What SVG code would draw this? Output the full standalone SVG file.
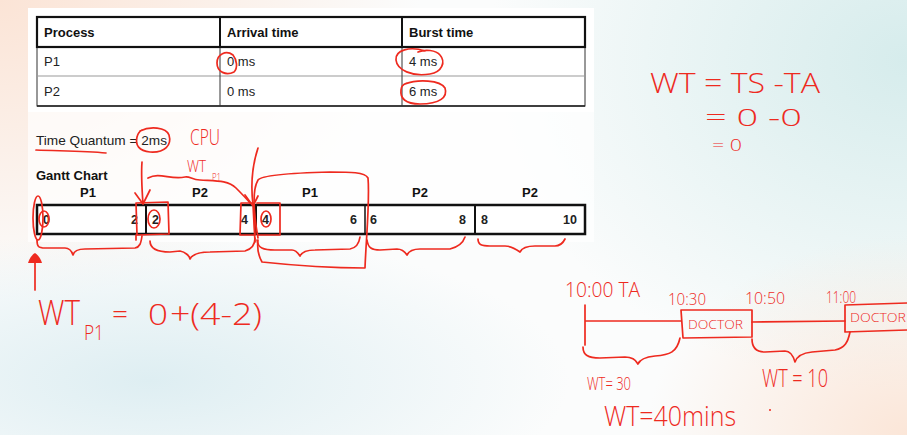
<svg xmlns="http://www.w3.org/2000/svg" width="907" height="435" viewBox="0 0 907 435">
<defs>
<radialGradient id="gPeach" cx="0" cy="0" r="1" gradientUnits="userSpaceOnUse" gradientTransform="translate(0 0) scale(420 300)">
<stop offset="0" stop-color="#fbe4d6"/><stop offset="1" stop-color="#fbe4d6" stop-opacity="0"/>
</radialGradient>
<radialGradient id="gTeal" cx="0" cy="0" r="1" gradientUnits="userSpaceOnUse" gradientTransform="translate(907 60) scale(420 330)">
<stop offset="0" stop-color="#d6ecec"/><stop offset="1" stop-color="#d6ecec" stop-opacity="0"/>
</radialGradient>
<radialGradient id="gBlue" cx="0" cy="0" r="1" gradientUnits="userSpaceOnUse" gradientTransform="translate(150 380) scale(420 150)">
<stop offset="0" stop-color="#deeef2"/><stop offset="1" stop-color="#deeef2" stop-opacity="0"/>
</radialGradient>
<radialGradient id="gPeach2" cx="0" cy="0" r="1" gradientUnits="userSpaceOnUse" gradientTransform="translate(907 435) scale(260 200)">
<stop offset="0" stop-color="#fbe6d8"/><stop offset="1" stop-color="#fbe6d8" stop-opacity="0"/>
</radialGradient>
<style>
.tb{font-family:"Liberation Sans",Arial,sans-serif;font-size:13px;font-weight:bold;fill:#111}
.tr{font-family:"Liberation Sans",Arial,sans-serif;font-size:13px;fill:#222}
.gn{font-family:"Liberation Sans",Arial,sans-serif;font-size:12.5px;font-weight:bold;fill:#222}
.ink{fill:none;stroke:#ee2a1f;stroke-width:1.7;stroke-linecap:round;stroke-linejoin:round}
.hw{font-family:"DejaVu Sans ExtraLight","Open Sans","DejaVu Sans",sans-serif;font-weight:300;fill:#ee2a1f}
.line{stroke:#111;fill:none}
</style>
</defs>
<rect width="907" height="435" fill="#fbfcfc"/>
<rect width="907" height="435" fill="url(#gPeach)"/>
<rect width="907" height="435" fill="url(#gTeal)"/>
<rect width="907" height="435" fill="url(#gBlue)"/>
<rect width="907" height="435" fill="url(#gPeach2)"/>
<rect x="28" y="8" width="566" height="104" fill="#ffffff"/>
<rect x="28" y="112" width="566" height="130" fill="#ffffff" opacity="0.7"/>

<g id="table">
<rect x="37" y="47" width="548" height="59" fill="#fff" stroke="#333" stroke-width="1"/>
<line x1="37" y1="76" x2="585" y2="76" stroke="#999" stroke-width="1.2"/>
<line x1="37" y1="106" x2="585" y2="106" stroke="#222" stroke-width="1.4"/>
<line x1="220" y1="47" x2="220" y2="106" stroke="#333" stroke-width="1"/>
<line x1="402" y1="47" x2="402" y2="106" stroke="#333" stroke-width="1"/>
<rect x="37" y="17" width="548" height="30" fill="#fff" stroke="#111" stroke-width="2.2"/>
<line x1="220" y1="17" x2="220" y2="47" stroke="#111" stroke-width="2"/>
<line x1="402" y1="17" x2="402" y2="47" stroke="#111" stroke-width="2"/>
<text class="tb" x="44" y="37">Process</text>
<text class="tb" x="227" y="37">Arrival time</text>
<text class="tb" x="409" y="37">Burst time</text>
<text class="tr" x="44" y="66">P1</text>
<text class="tr" x="227" y="66">0 ms</text>
<text class="tr" x="409" y="66">4 ms</text>
<text class="tr" x="44" y="96">P2</text>
<text class="tr" x="227" y="96">0 ms</text>
<text class="tr" x="409" y="96">6 ms</text>
</g>

<g id="quantum">
<text class="tr" x="36" y="145" font-size="13.5" textLength="131" lengthAdjust="spacingAndGlyphs">Time Quantum = 2ms</text>
</g>

<g id="gantt">
<text class="tb" x="36" y="180">Gantt Chart</text>
<text class="tb" x="80" y="197">P1</text>
<text class="tb" x="192" y="197">P2</text>
<text class="tb" x="302" y="197">P1</text>
<text class="tb" x="412" y="197">P2</text>
<text class="tb" x="522" y="197">P2</text>
<rect x="37" y="205" width="548" height="29" fill="#fff" stroke="#111" stroke-width="2.5"/>
<line class="line" x1="146" y1="205" x2="146" y2="234" stroke-width="2"/>
<line class="line" x1="256" y1="205" x2="256" y2="234" stroke-width="2"/>
<line class="line" x1="365" y1="205" x2="365" y2="234" stroke-width="1.5"/>
<line class="line" x1="475" y1="205" x2="475" y2="234" stroke-width="2"/>
<text class="gn" x="43" y="224">0</text>
<text class="gn" x="131" y="224">2</text>
<text class="gn" x="152" y="224">2</text>
<text class="gn" x="241" y="224">4</text>
<text class="gn" x="262" y="224">4</text>
<text class="gn" x="350" y="224">6</text>
<text class="gn" x="370" y="224">6</text>
<text class="gn" x="459" y="224">8</text>
<text class="gn" x="481" y="224">8</text>
<text class="gn" x="563" y="224">10</text>
</g>

<g id="table-marks">
<path class="ink" d="M233 55 C226 50,217 54,217 63 C217 72,226 76,234 72 C238 68,237 60,233 55"/>
<path class="ink" d="M425 51 C410 46,395 50,396 60 C397 70,412 77,430 74 C442 72,446 62,440 55 C436 50,425 49,418 52"/>
<path class="ink" d="M405 84 C418 79,440 80,445 88 C448 97,440 104,420 104 C405 104,400 98,401 90 C401 86,404 84,407 83"/>
<path class="ink" d="M36 150 C60 151,85 151,106 153"/>
<path class="ink" d="M140 131 C150 126,166 127,169 135 C172 145,165 153,150 152 C139 151,135 145,137 137 C138 133,140 131,142 130"/>
<text class="hw" x="190" y="145" font-size="22" textLength="30" lengthAdjust="spacingAndGlyphs">CPU</text>
<text class="hw" x="187" y="172" font-size="17" textLength="19" lengthAdjust="spacingAndGlyphs">WT</text>
<text class="hw" x="212" y="181" font-size="10" textLength="9" lengthAdjust="spacingAndGlyphs">P1</text>
</g>

<g id="gantt-marks">
<path class="ink" d="M142 162 C141 175,142 190,143 204 M135 193 L143 204 L150 190"/>
<path class="ink" d="M148 178 C160 172,170 180,185 177 C190 176,192 180,200 180 C215 181,228 180,236 188 C242 194,246 198,250 203"/>
<path class="ink" d="M258 148 C254 160,250 180,253 205 L255 242 M245 195 L253 206 L258 196"/>
<path class="ink" d="M136 203 L168 202 L169 234 L137 235 Z M136 235 L136 240"/>
<ellipse class="ink" cx="154" cy="219" rx="6" ry="9"/>
<ellipse class="ink" cx="38" cy="218" rx="5" ry="22"/>
<ellipse class="ink" cx="44" cy="219" rx="5" ry="8"/>
<path class="ink" d="M241 203 L254 203 L255 235 L240 235 Z"/>
<path class="ink" d="M257 203 L280 203 L280 235 L258 235"/>
<ellipse class="ink" cx="266" cy="219" rx="5" ry="8"/>
<path class="ink" d="M258 238 C254 215,252 190,258 180 C262 175,290 173,330 172 C350 172,365 172,368 178 C370 200,366 240,365 268 C330 268,290 265,262 262 C258 255,257 248,258 240"/>
<path class="ink" d="M37 240 C37 246,38 248,45 248 L65 248 C70 248,72 252,73 255 C74 251,78 249,85 249 L135 248 C140 247,141 243,142 236"/>
<path class="ink" d="M150 241 C150 248,155 252,170 252 L180 251 C185 252,190 256,190 259 C192 255,198 252,210 252 L245 251 C252 249,255 244,255 238"/>
<path class="ink" d="M257 240 C258 248,263 250,275 250 L292 250 C296 250,298 253,300 256 C302 252,306 250,315 250 L350 249 C356 248,359 244,360 237"/>
<path class="ink" d="M367 240 C368 248,372 250,380 250 L397 249 C402 249,405 252,407 255 C409 251,412 249,420 249 L450 249 C458 247,463 243,465 237"/>
<path class="ink" d="M478 239 C478 245,482 246,490 246 L505 246 C512 246,516 249,520 252 C522 248,528 246,535 246 L555 246 C560 246,563 243,565 239"/>
<path class="ink" d="M35 290 L35 258"/>
<path d="M28 263 C30 257,33 254,35 253 C38 255,41 259,42 263 Z" fill="#ee2a1f"/>
</g>

<g id="wt-p1">
<text class="hw" x="38" y="325" font-size="34" textLength="42" lengthAdjust="spacingAndGlyphs">WT</text>
<text class="hw" x="84" y="340" font-size="20" textLength="20" lengthAdjust="spacingAndGlyphs">P1</text>
<text class="hw" x="112" y="323" font-size="26" textLength="16" lengthAdjust="spacingAndGlyphs">=</text>
<text class="hw" x="148" y="325" font-size="30" textLength="20" lengthAdjust="spacingAndGlyphs">0</text>
<text class="hw" x="170" y="325" font-size="32" textLength="92" lengthAdjust="spacingAndGlyphs">+(4-2)</text>
</g>

<g id="wt-formula">
<text class="hw" x="650" y="93" font-size="28" textLength="170" lengthAdjust="spacingAndGlyphs">WT = TS -TA</text>
<text class="hw" x="705" y="126" font-size="24" textLength="97" lengthAdjust="spacingAndGlyphs">= 0 -0</text>
<text class="hw" x="712" y="151" font-size="17" textLength="30" lengthAdjust="spacingAndGlyphs">= 0</text>
</g>

<g id="doctor-timeline">
<text class="hw" x="565" y="297" font-size="20" textLength="75" lengthAdjust="spacingAndGlyphs">10:00 TA</text>
<text class="hw" x="668" y="305" font-size="17" textLength="38" lengthAdjust="spacingAndGlyphs">10:30</text>
<text class="hw" x="745" y="304" font-size="17" textLength="40" lengthAdjust="spacingAndGlyphs">10:50</text>
<text class="hw" x="826" y="303" font-size="17" textLength="30" lengthAdjust="spacingAndGlyphs">11:00</text>
<path class="ink" d="M585 305 L585 345 M585 321 L681 321"/>
<path class="ink" d="M681 310 L752 310 L752 337 L683 338 Z"/>
<text class="hw" x="688" y="329" font-size="12" textLength="55" lengthAdjust="spacingAndGlyphs">DOCTOR</text>
<path class="ink" d="M752 322 L845 321"/>
<path class="ink" d="M845 305 L907 303 M845 305 L845 332 L907 330"/>
<text class="hw" x="850" y="322" font-size="13" textLength="56" lengthAdjust="spacingAndGlyphs">DOCTOR</text>
<path class="ink" d="M583 347 C583 355,588 358,600 358 L625 357 C632 357,636 360,638 364 C640 359,645 357,655 356 C670 355,677 352,680 338"/>
<path class="ink" d="M752 339 C752 348,756 352,765 352 L785 351 C790 351,793 355,795 362 C797 356,802 353,812 352 L835 350 C845 348,848 342,850 332"/>
<text class="hw" x="587" y="390" font-size="19" textLength="44" lengthAdjust="spacingAndGlyphs">WT= 30</text>
<text class="hw" x="762" y="387" font-size="25" textLength="66" lengthAdjust="spacingAndGlyphs">WT = 10</text>
<text class="hw" x="604" y="426" font-size="28" textLength="132" lengthAdjust="spacingAndGlyphs">WT=40mins</text>
<circle cx="770" cy="410" r="1" fill="#ee2a1f"/>
</g>
</svg>
